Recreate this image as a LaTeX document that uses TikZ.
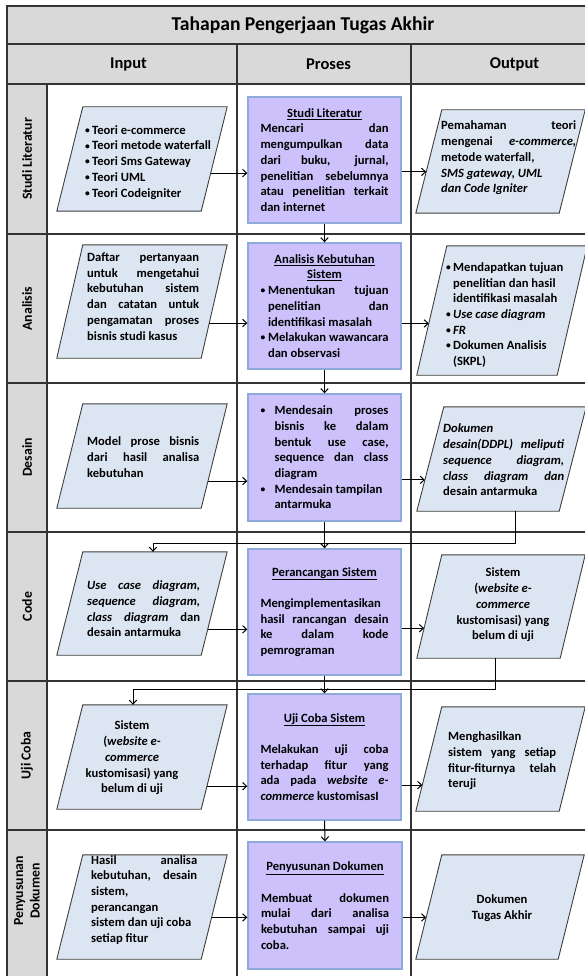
\documentclass[tikz,border=0pt]{standalone}
\usepackage{fontspec}
\setmainfont{Carlito}
\usetikzlibrary{arrows.meta,calc}

\definecolor{cellgray}{HTML}{D9D9D9}
\definecolor{gridline}{HTML}{333333}
\definecolor{iofill}{HTML}{DCE6F2}
\definecolor{ioline}{HTML}{3F3F3F}
\definecolor{procfill}{HTML}{CCC1FA}
\definecolor{procline}{HTML}{8EAADB}

\pgfdeclarelayer{cells}
\pgfdeclarelayer{shapes}
\pgfsetlayers{cells,shapes,main}

\newcommand\bodyfont{\fontsize{12.6}{15.7}\selectfont\bfseries}
% small round bullet
\newcommand\smbul{\raisebox{0.9pt}{\fontsize{9.5}{9.5}\selectfont •}}
% justified line, centred line, bullet lines, indented lines
\newcommand\jl[1]{\makebox[\linewidth][s]{#1}}
\newcommand\cl[1]{\makebox[\linewidth][c]{#1}}
\newcommand\bul[2]{\makebox[#1][l]{\smbul}\mbox{#2}}
\newcommand\bulj[2]{\makebox[#1][l]{\smbul}\makebox[\dimexpr\linewidth-#1\relax][s]{#2}}
\newcommand\ind[2]{\hspace*{#1}\mbox{#2}}
\newcommand\indj[2]{\hspace*{#1}\makebox[\dimexpr\linewidth-#1\relax][s]{#2}}

% parallelogram round a named rectangle node; #2 is half of the slant
\newcommand\paral[2]{%
  \coordinate (#1-tl) at ([xshift=#2]#1.north west);
  \coordinate (#1-tr) at ([xshift=#2]#1.north east);
  \coordinate (#1-br) at ([xshift=-#2]#1.south east);
  \coordinate (#1-bl) at ([xshift=-#2]#1.south west);
  \begin{pgfonlayer}{shapes}
    \draw[ioshape] (#1-tl) -- (#1-tr) -- (#1-br) -- (#1-bl) -- cycle;
  \end{pgfonlayer}}

\tikzset{
  gridln/.style={draw=gridline, line width=1.4pt},
  iobox/.style={rectangle, inner sep=0pt, minimum width=144pt},
  ioshape/.style={draw=ioline, fill=iofill, line width=0.9pt, line join=miter},
  txt/.style={font=\bodyfont, inner sep=0pt, align=flush left},
  ctxt/.style={font=\bodyfont, inner sep=0pt, align=center},
  proc/.style={rectangle, draw=procline, fill=procfill, line width=1.4pt,
    minimum width=153pt, minimum height=126pt, inner sep=0pt,
    text width=128pt, align=flush left, font=\bodyfont},
  lanelbl/.style={rotate=90, font=\fontsize{13.8}{16.5}\selectfont\bfseries, align=center, inner sep=0pt},
  headlbl/.style={font=\fontsize{16.5}{19}\selectfont\bfseries, inner sep=0pt},
  arr/.style={draw=black, line width=1pt, -{Straight Barb[length=4pt,width=7.5pt]}},
}

\begin{document}
\begin{tikzpicture}[x=1pt, y=-1pt]
\useasboundingbox (0,0) rectangle (584,976);

% ---- table ----
\begin{pgfonlayer}{cells}
  \fill[white] (0,0) rectangle (584,976);
  \fill[cellgray] (7,6) rectangle (600,84);
  \fill[cellgray] (7,84) rectangle (47,990);
  \draw[gridln] (600,6) -- (7,6) -- (7,990);
  \draw[gridln] (7,44) -- (600,44);
  \foreach \yy in {84,234,383,532,681,830} \draw[gridln] (7,\yy) -- (600,\yy);
  \draw[gridln] (47,84) -- (47,990);
  \draw[gridln] (237,44) -- (237,990);
  \draw[gridln] (411,44) -- (411,990);
\end{pgfonlayer}

\node[font=\fontsize{19.6}{22}\selectfont\bfseries, inner sep=0pt] (title) at (303,25) {Tahapan Pengerjaan Tugas Akhir};
\node[headlbl] (hin) at (128.5,64) {Input};
\node[headlbl] (hpr) at (328.5,64) {Proses};
\node[headlbl] (hout) at (514.5,64) {Output};

\node[lanelbl] (l1) at (27,159) {Studi Literatur};
\node[lanelbl] (l2) at (27,308.5) {Analisis};
\node[lanelbl] (l3) at (27,457.5) {Desain};
\node[lanelbl] (l4) at (27,606.5) {Code};
\node[lanelbl] (l5) at (27,755.5) {Uji Coba};
\node[lanelbl] (l6) at (27,891) {Penyusunan\\Dokumen};

% ---- input shapes ----
\node[iobox, minimum height=104pt] (in1) at (142,159) {};
\node[iobox, minimum height=113pt] (in2) at (142,301.5) {};
\node[iobox, minimum height=104pt] (in3) at (142,456) {};
\node[iobox, minimum height=103pt] (in4) at (142,603.5) {};
\node[iobox, minimum height=104pt] (in5) at (142,757) {};
\node[iobox, minimum height=104pt] (in6) at (142,907) {};
\paral{in1}{13pt}\paral{in2}{13pt}\paral{in3}{13pt}
\paral{in4}{13pt}\paral{in5}{13pt}\paral{in6}{13pt}

% ---- output shapes ----
\node[iobox, minimum width=143pt, minimum height=103pt] (out1) at (500.5,161.5) {};
\node[iobox, minimum width=140pt, minimum height=129pt] (out2) at (502,310.5) {};
\node[iobox, minimum width=142pt, minimum height=104pt] (out3) at (501.5,459) {};
\node[iobox, minimum width=143pt, minimum height=103pt] (out4) at (501,606.5) {};
\node[iobox, minimum width=143pt, minimum height=104pt] (out5) at (500.5,759) {};
\node[iobox, minimum width=142pt, minimum height=104pt] (out6) at (500,907) {};
\paral{out1}{13pt}\paral{out2}{15pt}\paral{out3}{13.5pt}
\paral{out4}{12.5pt}\paral{out5}{13pt}\paral{out6}{13pt}

% ---- input texts ----
\node[txt, anchor=west, text width=135pt] (in1t) at (85,162.3) {%
  \bul{7pt}{Teori e-commerce}\\
  \bul{7pt}{Teori metode waterfall}\\
  \bul{7pt}{Teori Sms Gateway}\\
  \bul{7pt}{Teori UML}\\
  \bul{7pt}{Teori Codeigniter}};
\node[txt, anchor=west, text width=112pt] (in2t) at (87,296.5) {%
  \jl{Daftar pertanyaan}\\
  \jl{untuk mengetahui}\\
  \jl{kebutuhan sistem}\\
  \jl{dan catatan untuk}\\
  \jl{pengamatan proses}\\
  \mbox{bisnis studi kasus}};
\node[txt, anchor=west, text width=112pt] (in3t) at (87,457) {%
  \jl{Model prose bisnis}\\
  \jl{dari hasil analisa}\\
  kebutuhan};
\node[txt, anchor=west, text width=113pt] (in4t) at (87,609) {%
  \jl{\textit{Use case diagram,}}\\
  \jl{\textit{sequence diagram,}}\\
  \jl{\textit{class diagram} dan}\\
  \mbox{desain antarmuka}};
\node[ctxt] (in5t) at (132,758) {%
  Sistem\\
  (\textit{website e-}\\
  \textit{commerce}\\
  kustomisasi) yang\\
  belum di uji};
\node[txt, anchor=west, text width=106pt] (in6t) at (91,900) {%
  \jl{Hasil analisa}\\
  \jl{kebutuhan, desain}\\
  sistem,\\
  perancangan\\
  \mbox{sistem dan uji coba}\\
  \mbox{setiap fitur}};

% ---- process boxes ----
\node[proc] (pr1) at (324.5,160) {%
  \cl{\underline{Studi Literatur}}\\
  \jl{Mencari dan}\\
  \jl{mengumpulkan data}\\
  \jl{dari buku, jurnal,}\\
  \jl{penelitian sebelumnya}\\
  \jl{atau penelitian terkait}\\
  \mbox{dan internet}};
\node[proc] (pr2) at (324.5,306) {%
  \cl{\underline{Analisis Kebutuhan}}\\
  \cl{\underline{Sistem}}\\
  \bulj{7.5pt}{Menentukan tujuan}\\
  \indj{7.5pt}{penelitian dan}\\
  \ind{7.5pt}{identifikasi masalah}\\
  \bul{7.5pt}{Melakukan wawancara}\\
  \ind{7.5pt}{dan observasi}};
\node[proc, minimum height=127pt] (pr3) at (324.5,457.5) {%
  \bulj{14pt}{Mendesain proses}\\
  \indj{14pt}{bisnis ke dalam}\\
  \indj{14pt}{bentuk use case,}\\
  \indj{14pt}{sequence dan class}\\
  \ind{14pt}{diagram}\\
  \bul{14pt}{Mendesain tampilan}\\
  \ind{14pt}{antarmuka}};
\node[proc] (pr4) at (324.5,612) {%
  \cl{\underline{Perancangan Sistem}}\\[15.7pt]
  \mbox{Mengimplementasikan}\\
  \jl{hasil rancangan desain}\\
  \jl{ke dalam kode}\\
  pemrograman};
\node[proc] (pr5) at (324.5,757) {%
  \cl{\underline{Uji Coba Sistem}}\\[15.7pt]
  \jl{Melakukan uji coba}\\
  \jl{terhadap fitur yang}\\
  \jl{ada pada \textit{website e-}}\\
  \mbox{\textit{commerce} kustomisasI}};
\node[proc, minimum width=154pt, minimum height=127pt] (pr6) at (325,905.5) {%
  \cl{\underline{Penyusunan Dokumen}}\\[15.7pt]
  \jl{Membuat dokumen}\\
  \jl{mulai dari analisa}\\
  \jl{kebutuhan sampai uji}\\
  coba.};

% ---- output texts ----
\node[txt, anchor=west, text width=135pt] (out1t) at (441,158) {%
  \jl{Pemahaman teori}\\
  \jl{mengenai \textit{e-commerce,}}\\
  \mbox{metode waterfall,}\\
  \mbox{\textit{SMS gateway, UML}}\\
  \mbox{\textit{dan Code Igniter}}};
\node[txt, anchor=west, text width=125pt] (out2t) at (446,315) {%
  \bul{7pt}{Mendapatkan tujuan}\\
  \ind{7pt}{penelitian dan hasil}\\
  \ind{7pt}{identifikasi masalah}\\
  \bul{7pt}{\textit{Use case diagram}}\\
  \bul{7pt}{\textit{FR}}\\
  \bul{7pt}{Dokumen Analisis}\\
  \ind{7pt}{(SKPL)}};
\node[txt, anchor=west, text width=121pt] (out3t) at (443,460) {%
  \textit{Dokumen}\\
  \jl{\textit{desain(DDPL) meliputi}}\\
  \jl{\textit{sequence diagram,}}\\
  \jl{\textit{class diagram dan}}\\
  \mbox{desain antarmuka}};
\node[ctxt] (out4t) at (503,605) {%
  Sistem\\
  (\textit{website e-}\\
  \textit{commerce}\\
  kustomisasi) yang\\
  belum di uji};
\node[txt, anchor=west, text width=108pt] (out5t) at (448,761) {%
  Menghasilkan\\
  \jl{sistem yang setiap}\\
  \jl{fitur-fiturnya telah}\\
  teruji};
\node[ctxt] (out6t) at (502,908) {Dokumen\\Tugas Akhir};

% ---- connectors: input -> process ----
\coordinate (a1) at ($(in1-tr)!0.635!(in1-br)$);
\coordinate (a2) at ($(in2-tr)!0.69!(in2-br)$);
\coordinate (a3) at ($(in3-tr)!0.74!(in3-br)$);
\coordinate (a4) at ($(in4-tr)!0.75!(in4-br)$);
\coordinate (a5) at ($(in5-tr)!0.78!(in5-br)$);
\coordinate (a6) at ($(in6-tr)!0.60!(in6-br)$);
\foreach \i in {1,...,6} \draw[arr] (a\i) -- (pr\i.west |- a\i);

% ---- connectors: process -> output ----
\coordinate (b1) at ($(out1-tl)!0.60!(out1-bl)$);
\coordinate (b2) at ($(out2-tl)!0.60!(out2-bl)$);
\coordinate (b3) at ($(out3-tl)!0.70!(out3-bl)$);
\coordinate (b4) at ($(out4-tl)!0.71!(out4-bl)$);
\coordinate (b5) at ($(out5-tl)!0.75!(out5-bl)$);
\coordinate (b6) at ($(out6-tl)!0.60!(out6-bl)$);
\foreach \i in {1,...,6} \draw[arr] (pr\i.east |- b\i) -- (b\i);

% ---- connectors: process chain ----
\draw[arr] (pr1.south) -- (pr2.north);
\draw[arr] (pr2.south) -- (pr3.north);
\draw[arr] (pr3.south) -- (pr4.north);
\draw[arr] (pr4.south) -- (pr5.north);
\draw[arr] (pr5.south) -- (pr6.north);

% ---- connectors: output feeds next input ----
\draw[arr] ([xshift=13.5pt]out3.south) -- ++(0,32) -| ([xshift=11pt]in4.north);
\draw[arr] ([xshift=-6pt]out4.south) -- ++(0,31) -| ([xshift=-9pt]in5.north);
\end{tikzpicture}
\end{document}
